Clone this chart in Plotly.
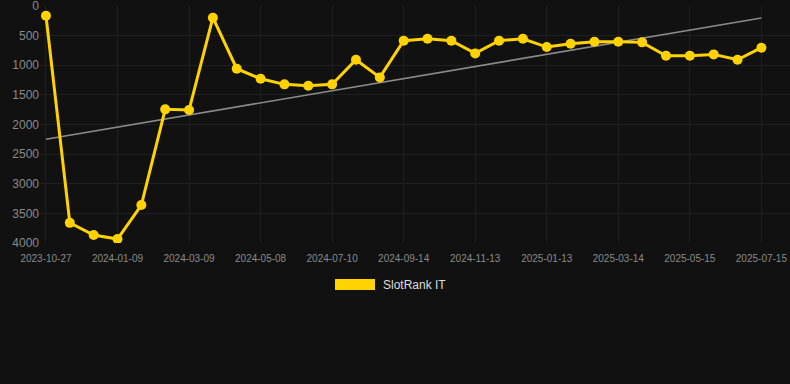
import numpy as np
import plotly.graph_objects as go

dates = [
    "2023-10-27", "2023-11-21", "2023-12-15", "2024-01-09", "2024-01-29", "2024-02-18",
    "2024-03-09", "2024-03-29", "2024-04-18", "2024-05-08", "2024-05-29", "2024-06-19",
    "2024-07-10", "2024-08-01", "2024-08-23", "2024-09-14", "2024-10-04", "2024-10-24",
    "2024-11-13", "2024-12-03", "2024-12-23", "2025-01-13", "2025-02-02", "2025-02-22",
    "2025-03-14", "2025-04-04", "2025-04-24", "2025-05-15", "2025-06-04", "2025-06-24",
    "2025-07-15",
]
rank_it = [
    164, 3660, 3865, 3933, 3359, 1744, 1755, 197, 1058, 1227, 1322, 1345, 1322, 906, 1204,
    585, 552, 585, 799, 585, 552, 692, 636, 602, 602, 613, 838, 838, 816, 906, 703,
]
tick_dates = dates[::3]
y_ticks = [0, 500, 1000, 1500, 2000, 2500, 3000, 3500, 4000]
series_name = "SlotRank IT"

yellow = "#FFD200"
bg = "#111111"
grid = "#1f1f1f"

idx = np.arange(len(rank_it))
slope, intercept = np.polyfit(idx, rank_it, 1)
trend = slope * idx + intercept

fig = go.Figure()
fig.add_trace(go.Scatter(
    x=[dates[0], dates[-1]], y=[trend[0], trend[-1]], mode="lines",
    line=dict(color="#8a8a8a", width=1.6), showlegend=False, hoverinfo="skip",
))
fig.add_trace(go.Scatter(
    x=dates, y=rank_it, mode="lines+markers", name=series_name,
    line=dict(color=yellow, width=3),
    marker=dict(color=yellow, size=10),
    showlegend=False,
))

fig.update_layout(
    width=790, height=384,
    margin=dict(l=40, r=0, t=6, b=141),
    paper_bgcolor=bg, plot_bgcolor=bg,
    font=dict(family="Liberation Sans, Arial, sans-serif", color="#8a8a8a"),
    showlegend=False,
    xaxis=dict(
        type="category", categoryorder="array", categoryarray=dates,
        range=[-0.25, 31.2],
        tickvals=tick_dates, ticktext=tick_dates,
        tickfont=dict(size=10, color="#8a8a8a"),
        ticklabelstandoff=8,
        showgrid=True, gridcolor=grid, gridwidth=1,
        zeroline=False, showline=False, ticks="",
    ),
    yaxis=dict(
        range=[4000, -1], tickvals=y_ticks,
        tickfont=dict(size=12, color="#8a8a8a"),
        ticklabeloverflow="allow",
        showgrid=True, gridcolor=grid, gridwidth=1,
        zeroline=False, showline=False, ticks="",
    ),
    shapes=[dict(
        type="rect", xref="paper", yref="paper",
        x0=(335 - 40) / 750, x1=(375 - 40) / 750,
        y0=(384 - 141 - 290) / 237, y1=(384 - 141 - 279) / 237,
        fillcolor=yellow, line=dict(width=0),
    )],
    annotations=[dict(
        text=series_name, xref="paper", yref="paper",
        x=(381 - 40) / 750, y=(384 - 141 - 285) / 237,
        xanchor="left", yanchor="middle", showarrow=False,
        font=dict(size=12, color="#dddddd"),
    )],
)

fig.write_html(
    "out.html",
    config={"displayModeBar": False},
    post_script="document.body.style.margin='0';document.body.style.background='#111111';",
)
